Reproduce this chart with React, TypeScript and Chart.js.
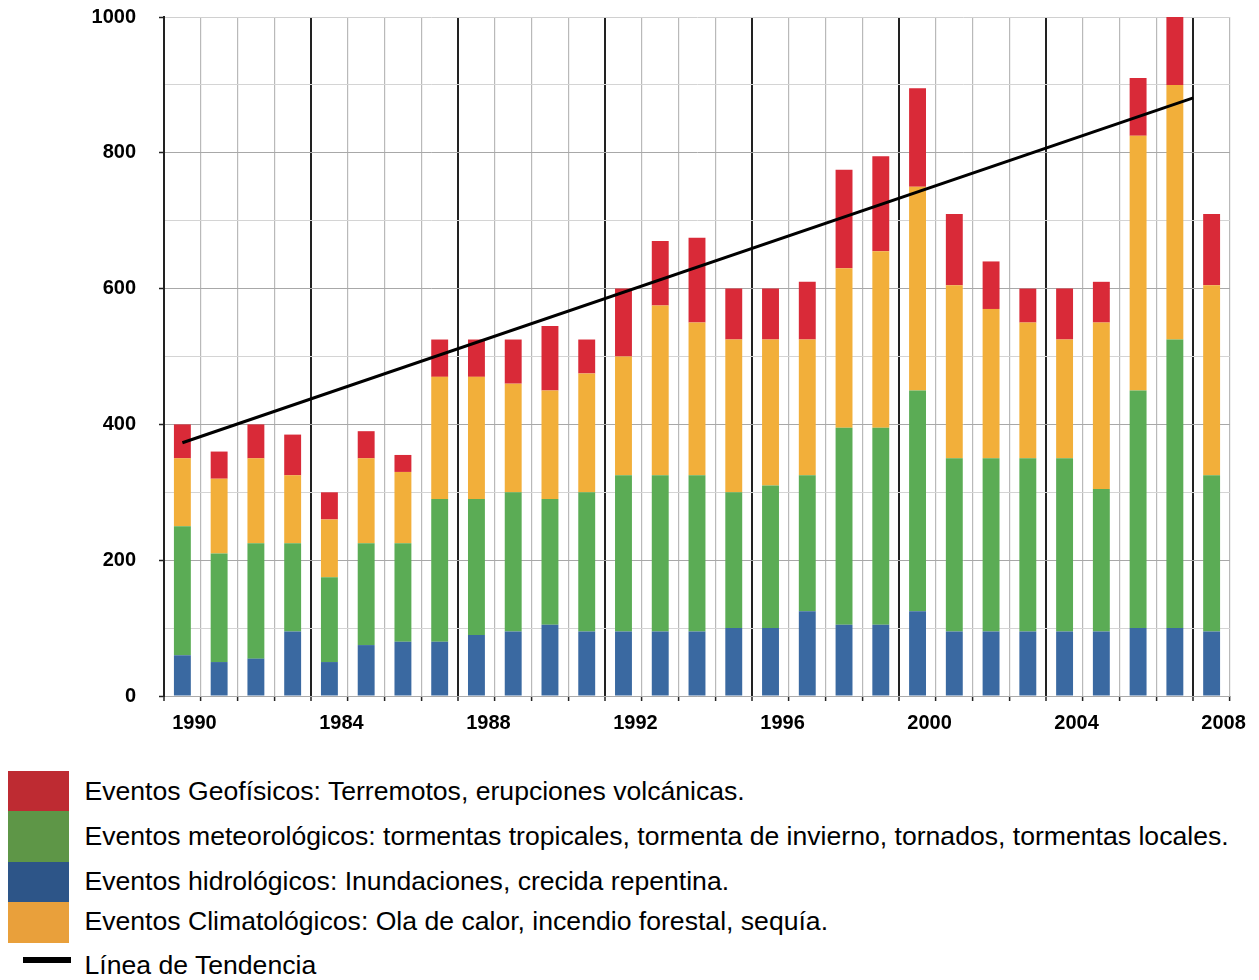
import { useEffect, useRef } from 'react';
import { Chart, registerables } from 'chart.js';

Chart.register(...registerables);

// ---- Data ----
const years = [
  '1980', '1981', '1982', '1983', '1984', '1985', '1986', '1987', '1988', '1989',
  '1990', '1991', '1992', '1993', '1994', '1995', '1996', '1997', '1998', '1999',
  '2000', '2001', '2002', '2003', '2004', '2005', '2006', '2007', '2008',
];

// Tick labels shown every 4 categories (as printed in the original)
const xTickText = ['1990', '1984', '1988', '1992', '1996', '2000', '2004', '2008'];

// Stacked segments (bottom to top)
const hidrologicos = [60, 50, 55, 95, 50, 75, 80, 80, 90, 95, 105, 95, 95, 95, 95, 100, 100, 125, 105, 105, 125, 95, 95, 95, 95, 95, 100, 100, 95];
const meteorologicos = [190, 160, 170, 130, 125, 150, 145, 210, 200, 205, 185, 205, 230, 230, 230, 200, 210, 200, 290, 290, 325, 255, 255, 255, 255, 210, 350, 425, 230];
const climatologicos = [100, 110, 125, 100, 85, 125, 105, 180, 180, 160, 160, 175, 175, 250, 225, 225, 215, 200, 235, 260, 300, 255, 220, 200, 175, 245, 375, 375, 280];
const geofisicos = [50, 40, 50, 60, 40, 40, 25, 55, 55, 65, 95, 50, 100, 95, 125, 75, 75, 85, 145, 140, 145, 105, 70, 50, 75, 60, 85, 100, 105];

// Trend line end points (category position, value)
const trendX = [0, 27.5];
const trendY = [373, 881];

const yMin = 0;
const yMax = 1000;
const yStep = 100;

const legendLabels = [
  'Eventos Geofísicos: Terremotos, erupciones volcánicas.',
  'Eventos meteorológicos: tormentas tropicales, tormenta de invierno, tornados, tormentas locales.',
  'Eventos hidrológicos: Inundaciones, crecida repentina.',
  'Eventos Climatológicos: Ola de calor, incendio forestal, sequía.',
  'Línea de Tendencia',
];

// ---- Styles ----
const barColors = {
  geo: '#D92A38',
  meteo: '#5BAC55',
  hidro: '#3A69A1',
  clima: '#F2AF3A',
};
const legendColors = ['#BE2B32', '#5E9647', '#2D5588', '#E9A03B'];
const FONT = '"Liberation Sans", Arial, Helvetica, sans-serif';

// Draws the trend line through the chart's own x / y scales
const trendPlugin = {
  id: 'trendLine',
  afterDatasetsDraw(chart: any) {
    const xs = chart.scales.x;
    const ys = chart.scales.y;
    const ctx = chart.ctx;
    ctx.save();
    ctx.strokeStyle = '#000';
    ctx.lineWidth = 3;
    ctx.lineCap = 'butt';
    ctx.beginPath();
    trendX.forEach((xv, i) => {
      const px = xs.getPixelForValue(xv);
      const py = ys.getPixelForValue(trendY[i]);
      if (i === 0) ctx.moveTo(px, py);
      else ctx.lineTo(px, py);
    });
    ctx.stroke();
    ctx.restore();
  },
};

export default function App() {
  const canvasRef = useRef<HTMLCanvasElement | null>(null);

  useEffect(() => {
    document.documentElement.style.overflow = 'hidden';
    if (!canvasRef.current) return;
    const barCommon = {
      barPercentage: 0.46,
      categoryPercentage: 1,
      borderWidth: 0,
    };
    const chart = new Chart(canvasRef.current, {
      type: 'bar',
      data: {
        labels: years,
        datasets: [
          { ...barCommon, label: 'hidro', data: hidrologicos, backgroundColor: barColors.hidro },
          { ...barCommon, label: 'meteo', data: meteorologicos, backgroundColor: barColors.meteo },
          { ...barCommon, label: 'clima', data: climatologicos, backgroundColor: barColors.clima },
          { ...barCommon, label: 'geo', data: geofisicos, backgroundColor: barColors.geo },
        ],
      },
      plugins: [trendPlugin],
      options: {
        animation: false,
        responsive: true,
        maintainAspectRatio: false,
        layout: { padding: { top: 9, right: 21, bottom: 0, left: 0 } },
        plugins: {
          legend: { display: false },
          tooltip: { enabled: false },
        },
        scales: {
          x: {
            type: 'category',
            stacked: true,
            offset: true,
            afterFit: (s: any) => {
              s.height = 52;
              s.paddingLeft = 0;
              s.paddingRight = 0;
            },
            grid: {
              offset: true,
              drawTicks: true,
              tickLength: 5,
              color: (ctx: any) =>
                ctx.index !== undefined && ctx.index % 4 === 0 ? '#222222' : '#b9b9b9',
              lineWidth: (ctx: any) =>
                ctx.index !== undefined && ctx.index % 4 === 0 ? 2 : 1.2,
              tickColor: '#222222',
              tickWidth: 1.5,
            },
            border: { display: true, color: '#aaaaaa', width: 1 },
            ticks: {
              autoSkip: false,
              maxRotation: 0,
              minRotation: 0,
              padding: 10,
              labelOffset: 12,
              color: '#000',
              font: { family: FONT, size: 20, weight: 'bold', lineHeight: 1.2 },
              callback: (_v: any, i: number) => (i % 4 === 0 ? xTickText[i / 4] : ''),
            },
          },
          y: {
            type: 'linear',
            stacked: true,
            min: yMin,
            max: yMax,
            afterFit: (s: any) => {
              s.width = 156;
              s.paddingTop = 0;
              s.paddingBottom = 0;
            },
            grid: {
              drawTicks: true,
              tickLength: 5,
              color: (ctx: any) => {
                const v = ctx.tick ? ctx.tick.value : 0;
                if (v === yMax) return '#d0d0d0';
                return v % 200 === 0 ? '#a8a8a8' : '#d4d4d4';
              },
              lineWidth: 1,
              tickColor: (ctx: any) => {
                const v = ctx.tick ? ctx.tick.value : 0;
                return v % 200 === 0 ? '#222222' : 'rgba(0,0,0,0)';
              },
              tickWidth: 1.5,
            },
            border: { display: true, color: '#222222', width: 2 },
            ticks: {
              stepSize: yStep,
              padding: 23,
              color: '#000',
              font: { family: FONT, size: 20, weight: 'bold', lineHeight: 0.9 },
              callback: (v: any) => (Number(v) % 200 === 0 ? String(v) : ''),
            },
          },
        },
      } as any,
    });
    return () => chart.destroy();
  }, []);

  const swatches = [
    { top: 763, height: 40 },
    { top: 803, height: 51 },
    { top: 854, height: 40 },
    { top: 894, height: 41 },
  ];
  const textTops = [768.3, 813.3, 858.3, 898.3, 942.3];

  return (
    <div style={{ position: 'relative', width: 1243, height: 972 }}>
      <div style={{ position: 'absolute', left: 0, top: 0, width: 1243, height: 740 }}>
        <canvas ref={canvasRef} />
      </div>
      {swatches.map((s, i) => (
        <div
          key={'sw' + i}
          style={{
            position: 'absolute',
            left: 0,
            top: s.top,
            width: 61,
            height: s.height,
            background: legendColors[i],
          }}
        />
      ))}
      <div
        style={{
          position: 'absolute',
          left: 14.7,
          top: 948.7,
          width: 48,
          height: 6.7,
          background: '#000',
        }}
      />
      {legendLabels.map((t, i) => (
        <div
          key={'lt' + i}
          style={{
            position: 'absolute',
            left: 76.5,
            top: textTops[i],
            height: 30,
            lineHeight: '30px',
            fontSize: 26.6,
            fontFamily: FONT,
            color: '#000',
            whiteSpace: 'nowrap',
          }}
        >
          {t}
        </div>
      ))}
    </div>
  );
}
